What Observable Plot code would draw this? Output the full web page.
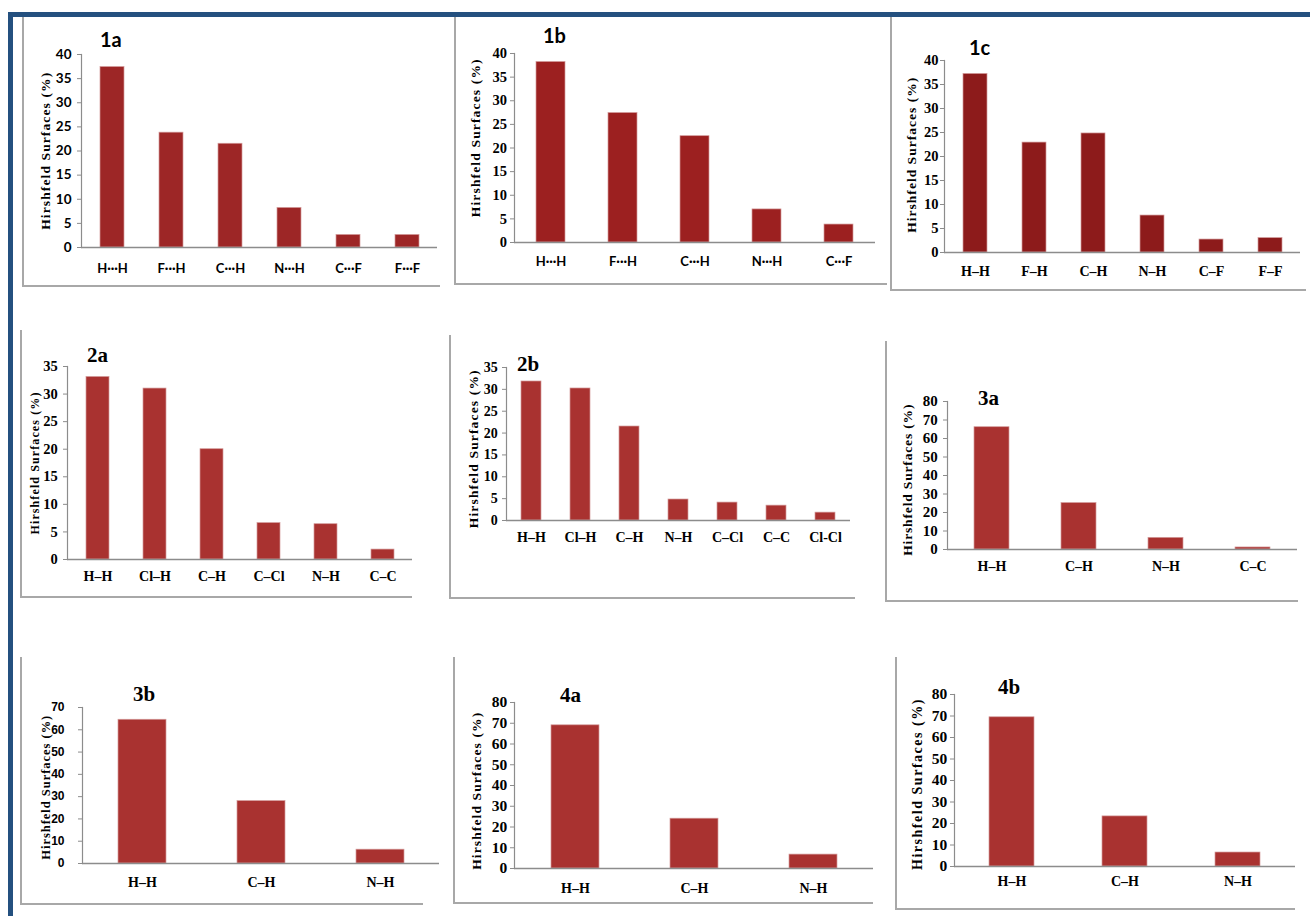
<!DOCTYPE html>
<html><head><meta charset="utf-8">
<script src="https://cdn.jsdelivr.net/npm/d3@7"></script>
<script src="https://cdn.jsdelivr.net/npm/@observablehq/plot@0.6"></script>
<style>
body{margin:0;background:#fff;}
#root{position:relative;width:1310px;height:916px;overflow:hidden;background:#fff;}
.abs{position:absolute;}
.title{position:absolute;font-weight:bold;line-height:1;white-space:nowrap;color:#000;}
.ylab{position:absolute;white-space:nowrap;line-height:1;color:#000;}
</style></head><body><div id="root"></div>
<script>
// ---- data ----
const yLabel = "Hirshfeld Surfaces (%)";
const ticks40 = [0,5,10,15,20,25,30,35,40];
const ticks35 = [0,5,10,15,20,25,30,35];
const ticks80 = [0,10,20,30,40,50,60,70,80];
const ticks70 = [0,10,20,30,40,50,60,70];

const cats1a = ["H···H","F···H","C···H","N···H","C···F","F···F"];
const vals1a = [37.4, 23.8, 21.5, 8.2, 2.6, 2.6];
const cats1b = ["H···H","F···H","C···H","N···H","C···F"];
const vals1b = [38.2, 27.4, 22.5, 7.0, 3.8];
const cats1c = ["H–H","F–H","C–H","N–H","C–F","F–F"];
const vals1c = [37.2, 22.9, 24.8, 7.7, 2.7, 3.0];
const cats2a = ["H–H","Cl–H","C–H","C–Cl","N–H","C–C"];
const vals2a = [33.1, 31.0, 20.0, 6.6, 6.4, 1.8];
const cats2b = ["H–H","Cl–H","C–H","N–H","C–Cl","C–C","Cl-Cl"];
const vals2b = [31.8, 30.2, 21.5, 4.8, 4.1, 3.4, 1.8];
const cats3a = ["H–H","C–H","N–H","C–C"];
const vals3a = [66.1, 25.1, 6.3, 1.1];
const cats3b = ["H–H","C–H","N–H"];
const vals3b = [64.5, 28.0, 6.2];
const cats4a = ["H–H","C–H","N–H"];
const vals4a = [69.0, 24.0, 6.7];
const cats4b = ["H–H","C–H","N–H"];
const vals4b = [69.4, 23.3, 6.5];

// ---- layout / style ----
const SERIF = "'Liberation Serif', 'Times New Roman', serif";
const SANS = "Lato, 'Liberation Sans', sans-serif";
const ARIAL = "'Liberation Sans', Arial, sans-serif";
const RED = "#a93230";
const panels = [
 {t:"1a", cats:cats1a, vals:vals1a, ticks:ticks40, ax:81, xe:437, yt:54, y0:247, fill:"#9d2626",
  yFont:SANS, yFs:13.5, yPad:6, xFont:SANS, xFs:13, xPad:16,
  title:{x:100, base:47, font:SANS, fs:20}, ylab:{cx:46, cy:151, len:158, fs:13.5},
  frame:{x:22, y1:17, y2:285, x2:440}},
 {t:"1b", cats:cats1b, vals:vals1b, ticks:ticks40, ax:514, xe:875, yt:53, y0:242, fill:"#9c2020",
  yFont:SERIF, yFs:14.5, yPad:3.5, xFont:SANS, xFs:13, xPad:14.5,
  title:{x:543, base:43, font:SANS, fs:20}, ylab:{cx:475, cy:137.5, len:159, fs:13.5},
  frame:{x:454, y1:17, y2:283, x2:887}},
 {t:"1c", cats:cats1c, vals:vals1c, ticks:ticks40, ax:944, xe:1300, yt:60, y0:252, fill:"#8d1b1b",
  yFont:SERIF, yFs:14.5, yPad:2, xFont:SERIF, xFs:14, xPad:14,
  title:{x:969, base:55, font:SANS, fs:20}, ylab:{cx:912, cy:155, len:156, fs:13.5},
  frame:{x:890, y1:17, y2:289, x2:1306}},
 {t:"2a", cats:cats2a, vals:vals2a, ticks:ticks35, ax:67, xe:412, yt:366, y0:559, fill:RED,
  yFont:SERIF, yFs:14.5, yPad:5.7, xFont:SERIF, xFs:14, xPad:12,
  title:{x:87, base:363, font:SERIF, fs:21}, ylab:{cx:34, cy:463, len:143, fs:12},
  frame:{x:20, y1:330, y2:596, x2:412}},
 {t:"2b", cats:cats2b, vals:vals2b, ticks:ticks35, ax:506, xe:850, yt:367, y0:520, fill:RED,
  yFont:SERIF, yFs:14, yPad:4.7, xFont:SERIF, xFs:14, xPad:12,
  title:{x:517, base:372, font:SERIF, fs:21}, ylab:{cx:473, cy:449, len:159, fs:13.5},
  frame:{x:449, y1:335, y2:597, x2:855}},
 {t:"3a", cats:cats3a, vals:vals3a, ticks:ticks80, ax:947, xe:1297, yt:401, y0:549, fill:RED,
  yFont:SERIF, yFs:15, yPad:5.7, xFont:SERIF, xFs:14, xPad:12,
  title:{x:978, base:406, font:SERIF, fs:21}, ylab:{cx:907.5, cy:480, len:152, fs:13.5},
  frame:{x:885, y1:341, y2:600, x2:1298}},
 {t:"3b", cats:cats3b, vals:vals3b, ticks:ticks70, ax:82, xe:439, yt:707, y0:863, fill:RED,
  yFont:ARIAL, yFs:12, yPad:14, xFont:SERIF, xFs:14, xPad:14,
  title:{x:133, base:702, font:SERIF, fs:21}, ylab:{cx:46.5, cy:787, len:145, fs:12.5},
  frame:{x:20, y1:657, y2:903, x2:423}},
 {t:"4a", cats:cats4a, vals:vals4a, ticks:ticks80, ax:514, xe:873, yt:702, y0:868, fill:RED,
  yFont:SERIF, yFs:15.5, yPad:3.3, xFont:SERIF, xFs:14, xPad:15,
  title:{x:560, base:703, font:SERIF, fs:21}, ylab:{cx:477, cy:791, len:158, fs:13.5},
  frame:{x:453, y1:657, y2:902, x2:873}},
 {t:"4b", cats:cats4b, vals:vals4b, ticks:ticks80, ax:954, xe:1295, yt:694, y0:866, fill:RED,
  yFont:SERIF, yFs:15.5, yPad:3.3, xFont:SERIF, xFs:14, xPad:10,
  title:{x:998, base:695, font:SERIF, fs:21}, ylab:{cx:918, cy:784, len:172, fs:14},
  frame:{x:895, y1:657, y2:908, x2:1295}}
];

const root = document.getElementById("root");
const AXIS = "#8c8c8c";
const FRAME = "#a8a8a8";

function box(x, y, w, h, color){
  const d = document.createElement("div");
  d.className = "abs";
  Object.assign(d.style, {left:x+"px", top:y+"px", width:w+"px", height:h+"px", background:color});
  root.appendChild(d);
}

// outer blue border
box(8, 12, 1302, 5, "#24507f");
box(8, 12, 5, 904, "#24507f");

const mL = 60, mR = 4, mT = 10, mB = 40;
for (const p of panels) {
  // panel frame (left + bottom)
  box(p.frame.x, p.frame.y1, 1.5, p.frame.y2 - p.frame.y1, FRAME);
  box(p.frame.x, p.frame.y2, p.frame.x2 - p.frame.x, 1.5, FRAME);

  const data = p.cats.map((c, i) => ({c, v: p.vals[i]}));
  const W = p.xe - p.ax + mL + mR;
  const H = p.y0 - p.yt + mT + mB;
  const svg = Plot.plot({
    width: W, height: H,
    marginLeft: mL, marginRight: mR, marginTop: mT, marginBottom: mB,
    x: {domain: p.cats, paddingInner: 0.6, paddingOuter: 0.3, align: 0.5},
    y: {domain: [0, p.ticks[p.ticks.length - 1]]},
    style: {background: "transparent", overflow: "visible"},
    marks: [
      Plot.barY(data, {x: "c", y: "v", fill: p.fill, stroke: "#d39a9a", strokeWidth: 0.7}),
      Plot.frame({anchor: "left", stroke: AXIS, strokeWidth: 1.2}),
      Plot.ruleY([0], {stroke: AXIS, strokeWidth: 1.3}),
      Plot.axisY({ticks: p.ticks, tickSize: 4, tickPadding: p.yPad, stroke: AXIS, label: null,
        fontFamily: p.yFont, fontWeight: "bold", fontSize: p.yFs}),
      Plot.axisX({tickSize: 0, tickPadding: p.xPad, label: null,
        fontFamily: p.xFont, fontWeight: "bold", fontSize: p.xFs})
    ]
  });
  // enforce tick label fonts on the text nodes themselves
  d3.select(svg).selectAll("text").each(function() {
    const g = this.closest("g[aria-label]");
    const lab = g ? g.getAttribute("aria-label") : "";
    if (/y-axis/.test(lab)) {
      this.style.fontFamily = p.yFont; this.style.fontWeight = "bold";
      this.style.fontSize = p.yFs + "px"; this.style.fill = "#000";
    } else if (/x-axis/.test(lab)) {
      this.style.fontFamily = p.xFont; this.style.fontWeight = "bold";
      this.style.fontSize = p.xFs + "px"; this.style.fill = "#000";
    }
  });
  svg.style.position = "absolute";
  svg.style.left = (p.ax - mL) + "px";
  svg.style.top = (p.yt - mT) + "px";
  root.appendChild(svg);

  // panel title
  const t = document.createElement("div");
  t.className = "title";
  t.textContent = p.t;
  const asc = p.title.font === SERIF ? 0.8375 : 0.887;
  Object.assign(t.style, {left: p.title.x + "px", top: (p.title.base - asc * p.title.fs) + "px",
    fontFamily: p.title.font, fontSize: p.title.fs + "px"});
  root.appendChild(t);

  // rotated y label
  const yl = document.createElement("div");
  yl.className = "ylab";
  yl.textContent = yLabel;
  Object.assign(yl.style, {fontFamily: SERIF, fontWeight: "bold", fontSize: p.ylab.fs + "px"});
  root.appendChild(yl);
  const w0 = yl.getBoundingClientRect().width;
  const n = yLabel.length;
  const ls = Math.max(0, (p.ylab.len - w0) / n);
  yl.style.letterSpacing = ls + "px";
  const w1 = yl.getBoundingClientRect().width;
  Object.assign(yl.style, {left: (p.ylab.cx - w1 / 2) + "px", top: (p.ylab.cy - p.ylab.fs / 2) + "px",
    height: p.ylab.fs + "px", transform: "rotate(-90deg)", transformOrigin: "50% 50%"});
}
</script></body></html>
